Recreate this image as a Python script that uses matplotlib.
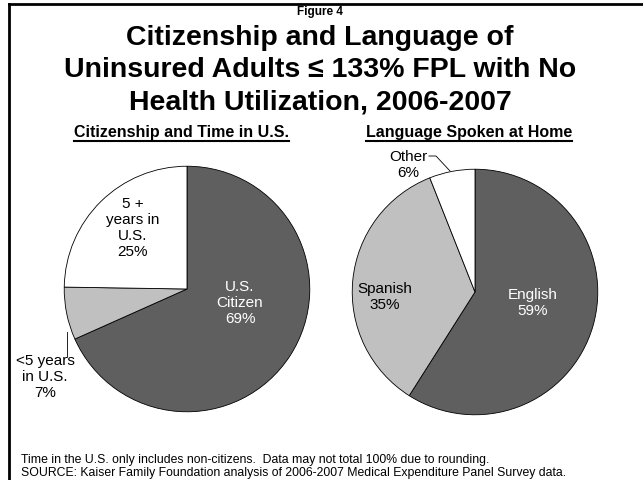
import matplotlib
matplotlib.use("Agg")
import matplotlib.pyplot as plt
from matplotlib.lines import Line2D

plt.rcParams['font.family'] = ['Liberation Sans', 'DejaVu Sans']

W, H = 643, 481

# data
cit_labels = ["U.S.\nCitizen", "<5 years\nin U.S.", "5 +\nyears in\nU.S."]
cit_values = [69, 7, 25]
lang_labels = ["English", "Spanish", "Other"]
lang_values = [59, 35, 6]

colors = ["#5f5f5f", "#c0c0c0", "#ffffff"]


def fx(x):
    return x / W


def fy(y):
    return 1 - y / H


fig = plt.figure(figsize=(W / 100, H / 100), dpi=100)

# frame (top and left edges only)
fig.add_artist(Line2D([fx(9), 1], [fy(5), fy(5)], color="black", lw=2))
fig.add_artist(Line2D([fx(9), fx(9)], [fy(5), 0], color="black", lw=2))

fig.text(fx(320), fy(12), "Figure 4", ha="center", va="center",
         fontsize=8.5, fontweight="bold")
title = "Citizenship and Language of\nUninsured Adults \u2264 133% FPL with No\nHealth Utilization, 2006-2007"
fig.text(fx(320), fy(70), title, ha="center", va="center", fontsize=20.5,
         fontweight="bold", linespacing=1.32)


def pie_axes(cx, cy, r, values):
    ax = fig.add_axes([fx(cx - r), 1 - (cy + r) / H, 2 * r / W, 2 * r / H])
    ax.pie(values, colors=colors, startangle=90, counterclock=False,
           radius=1, wedgeprops=dict(edgecolor="black", linewidth=0.6))
    ax.set_xlim(-1.01, 1.01)
    ax.set_ylim(-1.01, 1.01)
    ax.set_aspect("equal")
    ax.axis("off")
    return ax


ax1 = pie_axes(187, 290, 124, cit_values)
ax2 = pie_axes(475, 293, 124, lang_values)

# slice labels
lf = 11
fig.text(fx(240), fy(303), cit_labels[0] + "\n%d%%" % cit_values[0],
         ha="center", va="center", color="white", fontsize=lf)
fig.text(fx(45), fy(377), cit_labels[1] + "\n%d%%" % cit_values[1],
         ha="center", va="center", fontsize=lf)
fig.text(fx(133), fy(228), cit_labels[2] + "\n%d%%" % cit_values[2],
         ha="center", va="center", fontsize=lf)
fig.add_artist(Line2D([fx(67), fx(67)], [fy(333), fy(358)], color="black", lw=0.6))

fig.text(fx(533), fy(303), lang_labels[0] + "\n%d%%" % lang_values[0],
         ha="center", va="center", color="white", fontsize=lf)
fig.text(fx(385), fy(297), lang_labels[1] + "\n%d%%" % lang_values[1],
         ha="center", va="center", fontsize=lf)
fig.text(fx(408), fy(165), lang_labels[2] + "\n%d%%" % lang_values[2],
         ha="center", va="center", fontsize=lf)
fig.add_artist(Line2D([fx(429), fx(436), fx(450)], [fy(157), fy(157), fy(172)],
                      color="black", lw=0.6))

# underlined subtitles
subs = [(181, "Citizenship and Time in U.S."), (469, "Language Spoken at Home")]
fig.canvas.draw()
renderer = fig.canvas.get_renderer()
for x, s in subs:
    t = fig.text(fx(x), fy(132), s, ha="center", va="center",
                 fontsize=11.5, fontweight="bold")
    bb = t.get_window_extent(renderer)
    yline = H - 142
    fig.add_artist(Line2D([bb.x0 / W, bb.x1 / W], [yline / H, yline / H],
                          color="black", lw=1.5))

fig.text(fx(21), fy(460), "Time in the U.S. only includes non-citizens.  Data may not total 100% due to rounding.",
         ha="left", va="center", fontsize=8.8)
fig.text(fx(21), fy(473), "SOURCE: Kaiser Family Foundation analysis of 2006-2007 Medical Expenditure Panel Survey data.",
         ha="left", va="center", fontsize=8.8)

fig.savefig("out.png", dpi=100)
